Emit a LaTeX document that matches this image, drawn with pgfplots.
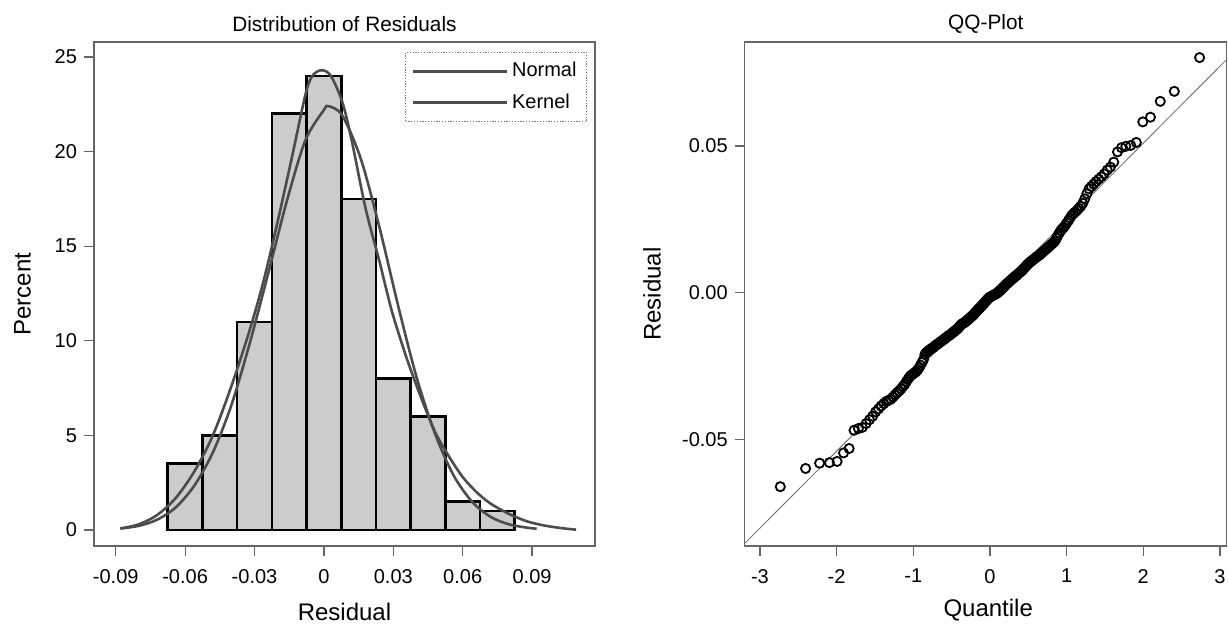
\documentclass[border=0pt]{standalone}
\usepackage{pgfplots}
\pgfplotsset{compat=1.18}
\usepackage{fontspec}
\setmainfont{Liberation Sans}
\begin{document}
\begin{tikzpicture}
\pgfplotsset{
 every axis/.append style={
  scale only axis,
  axis line style={draw=black!60, line width=0.6pt},
  tick style={draw=black!60, line width=0.6pt},
  major tick length=5pt,
  tick align=outside,
  xtick pos=bottom, ytick pos=left,
  scaled x ticks=false, scaled y ticks=false,
  tick label style={font=\fontsize{10}{12}\selectfont},
  xticklabel style={yshift=-3pt},
  label style={font=\fontsize{12}{14}\selectfont},
  title style={font=\fontsize{10.4}{12}\selectfont, anchor=center, at={(0.5,1)}, yshift=3pt},
 }
}
\begin{axis}[at={(47pt,38.5pt)}, anchor=south west, width=250.5pt, height=252pt,
 xmin=-0.0994, xmax=0.1172, ymin=-0.846, ymax=25.79,
 xtick={-0.09,-0.06,-0.03,0,0.03,0.06,0.09},
 xticklabels={-0.09,-0.06,-0.03,0,0.03,0.06,0.09},
 ytick={0,5,10,15,20,25}, yticklabels={0,5,10,15,20,25},
 title={Distribution of Residuals},
 xlabel={Residual}, ylabel={Percent},
 xlabel style={at={([yshift=-33pt]axis description cs:0.5,0)}, anchor=center},
 ylabel style={at={([xshift=-35.7pt]axis description cs:0,0.5)}, anchor=center},
 legend style={at={(0.984,0.98)}, anchor=north east, draw=black!55, dash pattern=on 0.6pt off 0.8pt,
   font=\fontsize{10}{12}\selectfont, row sep=3pt, inner sep=3pt},
 legend cell align=left,
 legend image code/.code={\draw[#1, solid] (0pt,0pt) -- (47pt,0pt);},
]
\addplot[ybar interval, fill=black!20, draw=black, line width=1.3pt, forget plot] coordinates {
(-0.0675,3.5) (-0.0525,5) (-0.0375,11) (-0.0225,22) (-0.0075,24) (0.0075,17.5) (0.0225,8) (0.0375,6) (0.0525,1.5) (0.0675,1) (0.0825,1)};
\addplot[black!70, line width=1.3pt, smooth] coordinates {
(-0.088,0.08) (-0.080,0.22) (-0.072,0.55) (-0.064,1.2) (-0.056,2.35) (-0.048,4.1) (-0.040,6.6) (-0.032,9.9) (-0.024,13.6) (-0.016,17.4) (-0.008,20.6) (0.000,22.2) (0.002,22.4) (0.008,21.9) (0.016,19.6) (0.024,16.0) (0.032,11.9) (0.040,8.1) (0.048,5.1) (0.056,2.9) (0.064,1.5) (0.072,0.7) (0.080,0.3) (0.088,0.12) (0.092,0.07)};
\addlegendentry{Normal}
\addplot[black!70, line width=1.3pt, smooth] coordinates {
(-0.088,0.08) (-0.080,0.3) (-0.072,0.8) (-0.064,1.7) (-0.056,3.1) (-0.048,5.0) (-0.040,7.6) (-0.032,10.6) (-0.026,13.2) (-0.020,16.3) (-0.014,19.6) (-0.008,23.0) (-0.005,24.0) (-0.001,24.3) (0.003,24.0) (0.008,22.6) (0.012,20.6) (0.018,17.0) (0.024,14.2) (0.027,12.7) (0.030,11.3) (0.036,9.0) (0.042,7.0) (0.048,5.2) (0.054,3.9) (0.060,2.8) (0.066,2.0) (0.072,1.4) (0.080,0.85) (0.088,0.45) (0.096,0.22) (0.104,0.08) (0.109,0.02)};
\addlegendentry{Kernel}
\end{axis}
\begin{axis}[at={(372.4pt,38.5pt)}, anchor=south west, width=241pt, height=252pt,
 xmin=-3.198, xmax=3.09, ymin=-0.0862, ymax=0.0854,
 xtick={-3,-2,-1,0,1,2,3}, xticklabels={-3,-2,-1,0,1,2,3},
 ytick={-0.05,0,0.05}, yticklabels={-0.05,0.00,0.05},
 title={QQ-Plot}, xlabel={Quantile}, ylabel={Residual},
 xlabel style={at={([yshift=-32pt]axis description cs:0.505,0)}, anchor=center},
 ylabel style={at={([xshift=-46.4pt]axis description cs:0,0.5)}, anchor=center},
]
\addplot[black!60, line width=0.4pt] coordinates {(-3.198,-0.0853) (3.09,0.0795)};
\addplot[only marks, mark=o, mark size=2.3pt, mark options={line width=0.9pt}, black] table[row sep=\\] {
x y\\
-2.735 -0.0660\\ -2.405 -0.0598\\ -2.222 -0.0580\\ -2.094 -0.0578\\ -1.994 -0.0574\\
-1.910 -0.0545\\ -1.837 -0.0530\\ -1.773 -0.0468\\ -1.716 -0.0462\\ -1.664 -0.0458\\
-1.615 -0.0445\\ -1.571 -0.0432\\ -1.530 -0.0420\\ -1.491 -0.0405\\ -1.453 -0.0395\\
-1.419 -0.0385\\ -1.385 -0.0377\\ -1.353 -0.0370\\ -1.323 -0.0366\\ -1.293 -0.0362\\
-1.265 -0.0355\\ -1.237 -0.0347\\ -1.211 -0.0340\\ -1.185 -0.0334\\ -1.160 -0.0327\\
-1.136 -0.0319\\ -1.112 -0.0312\\ -1.090 -0.0302\\ -1.067 -0.0293\\ -1.045 -0.0285\\
-1.024 -0.0280\\ -1.003 -0.0276\\ -0.983 -0.0272\\ -0.963 -0.0268\\ -0.943 -0.0262\\
-0.924 -0.0255\\ -0.905 -0.0246\\ -0.886 -0.0237\\ -0.868 -0.0228\\ -0.849 -0.0210\\
-0.832 -0.0204\\ -0.814 -0.0200\\ -0.797 -0.0196\\ -0.780 -0.0193\\ -0.763 -0.0190\\
-0.746 -0.0187\\ -0.730 -0.0184\\ -0.713 -0.0180\\ -0.697 -0.0177\\ -0.681 -0.0174\\
-0.666 -0.0171\\ -0.650 -0.0168\\ -0.635 -0.0165\\ -0.619 -0.0162\\ -0.604 -0.0159\\
-0.589 -0.0156\\ -0.574 -0.0153\\ -0.560 -0.0150\\ -0.545 -0.0147\\ -0.531 -0.0145\\
-0.516 -0.0142\\ -0.502 -0.0139\\ -0.488 -0.0136\\ -0.474 -0.0133\\ -0.460 -0.0130\\
-0.446 -0.0127\\ -0.432 -0.0124\\ -0.419 -0.0121\\ -0.405 -0.0117\\ -0.392 -0.0113\\
-0.378 -0.0109\\ -0.365 -0.0106\\ -0.351 -0.0104\\ -0.338 -0.0102\\ -0.325 -0.0100\\
-0.312 -0.0097\\ -0.299 -0.0094\\ -0.286 -0.0091\\ -0.273 -0.0088\\ -0.260 -0.0085\\
-0.247 -0.0082\\ -0.234 -0.0079\\ -0.221 -0.0076\\ -0.208 -0.0072\\ -0.196 -0.0069\\
-0.183 -0.0065\\ -0.170 -0.0061\\ -0.157 -0.0058\\ -0.145 -0.0054\\ -0.132 -0.0051\\
-0.119 -0.0047\\ -0.107 -0.0044\\ -0.094 -0.0040\\ -0.082 -0.0037\\ -0.069 -0.0033\\
-0.056 -0.0029\\ -0.044 -0.0026\\ -0.031 -0.0022\\ -0.019 -0.0019\\ -0.006 -0.0015\\
0.006 -0.0014\\ 0.019 -0.0012\\ 0.031 -0.0010\\ 0.044 -0.0008\\ 0.056 -0.0007\\
0.069 -0.0005\\ 0.082 -0.0003\\ 0.094 -0.0001\\ 0.107 0.0002\\ 0.119 0.0005\\
0.132 0.0008\\ 0.145 0.0011\\ 0.157 0.0014\\ 0.170 0.0018\\ 0.183 0.0021\\
0.196 0.0024\\ 0.208 0.0028\\ 0.221 0.0031\\ 0.234 0.0034\\ 0.247 0.0037\\
0.260 0.0040\\ 0.273 0.0043\\ 0.286 0.0046\\ 0.299 0.0049\\ 0.312 0.0052\\
0.325 0.0055\\ 0.338 0.0058\\ 0.351 0.0060\\ 0.365 0.0064\\ 0.378 0.0067\\
0.392 0.0070\\ 0.405 0.0073\\ 0.419 0.0076\\ 0.432 0.0080\\ 0.446 0.0084\\
0.460 0.0088\\ 0.474 0.0092\\ 0.488 0.0096\\ 0.502 0.0099\\ 0.516 0.0103\\
0.531 0.0106\\ 0.545 0.0109\\ 0.560 0.0112\\ 0.574 0.0115\\ 0.589 0.0118\\
0.604 0.0121\\ 0.619 0.0124\\ 0.635 0.0127\\ 0.650 0.0130\\ 0.666 0.0134\\
0.681 0.0137\\ 0.697 0.0141\\ 0.713 0.0144\\ 0.730 0.0148\\ 0.746 0.0152\\
0.763 0.0156\\ 0.780 0.0160\\ 0.797 0.0164\\ 0.814 0.0168\\ 0.832 0.0172\\
0.849 0.0177\\ 0.868 0.0186\\ 0.886 0.0195\\ 0.905 0.0204\\ 0.924 0.0212\\
0.943 0.0218\\ 0.963 0.0223\\ 0.983 0.0230\\ 1.003 0.0238\\ 1.024 0.0246\\
1.045 0.0255\\ 1.067 0.0264\\ 1.090 0.0270\\ 1.112 0.0275\\ 1.136 0.0281\\
1.160 0.0288\\ 1.185 0.0295\\ 1.211 0.0305\\ 1.237 0.0320\\ 1.265 0.0338\\
1.293 0.0354\\ 1.323 0.0362\\ 1.353 0.0370\\ 1.385 0.0379\\ 1.419 0.0387\\
1.453 0.0395\\ 1.491 0.0405\\ 1.530 0.0418\\ 1.571 0.0428\\ 1.615 0.0445\\
1.664 0.0480\\ 1.716 0.0494\\ 1.773 0.0499\\ 1.837 0.0502\\ 1.910 0.0512\\
1.994 0.0582\\ 2.094 0.0598\\ 2.222 0.0652\\ 2.405 0.0686\\ 2.735 0.0801\\
};
\end{axis}
\pgfresetboundingbox
\path (0,0) rectangle (614pt,311.5pt);
\end{tikzpicture}
\end{document}
